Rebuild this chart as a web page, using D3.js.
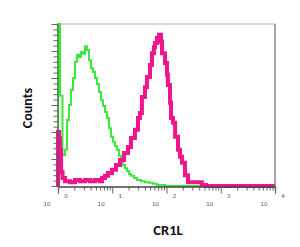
<!DOCTYPE html>
<html>
<head>
<meta charset="utf-8">
<script src="https://cdn.jsdelivr.net/npm/d3@7"></script>
<style>
  html, body { margin: 0; padding: 0; background: #fff; }
  svg { display: block; }
</style>
</head>
<body>
<svg class="canvas" width="300" height="247"></svg>
<script>
"use strict";

// isotype control (green) - fluorescence intensity / event count
const controlIntensity = [1.0, 1.09, 1.21, 1.35, 1.47, 1.59, 1.74, 1.89, 2.06, 2.24,
  2.44, 2.65, 2.89, 3.15, 3.42, 3.73, 4.06, 4.42, 4.81, 5.23,
  5.70, 6.20, 6.75, 7.35, 8.00, 8.71, 9.48, 10.3, 11.2, 12.2,
  13.3, 14.5, 15.8, 17.2, 18.7, 20.4, 22.2, 25.2, 28.6, 33.9,
  40.1, 47.6, 56.4, 66.8, 93.8, 10000];
const controlCounts = [300, 167, 57, 67, 122, 150, 178, 200, 230, 243,
  239, 248, 245, 259, 252, 233, 218, 211, 200, 189,
  174, 159, 148, 137, 126, 107, 91, 82, 74, 67,
  56, 48, 39, 33, 28, 22, 19, 15, 11, 9,
  7, 6, 4, 2, 0, 0];

// CR1L stained (magenta)
const cr1lIntensity = [1.0, 1.05, 1.09, 1.14, 1.21, 1.35, 1.66, 2.06, 2.54, 3.15, 3.89,
  4.81, 5.95, 6.47, 7.35, 8.34, 9.89, 11.7, 13.9, 16.5, 19.5,
  22.2, 26.2, 29.8, 32.4, 35.2, 40.1, 43.6, 49.6, 54.0, 58.7,
  61.3, 66.8, 72.7, 79.1, 82.6, 93.8, 102, 106, 116, 121,
  132, 144, 163, 177, 193, 219, 249, 364, 449, 537, 10000];
const cr1lCounts = [100, 88, 67, 26, 15, 9, 7, 11, 9, 11, 9,
  11, 9, 15, 19, 24, 30, 39, 48, 61, 72,
  89, 104, 126, 135, 165, 183, 202, 224, 246, 257,
  265, 274, 280, 267, 246, 228, 206, 187, 154, 126,
  117, 91, 67, 54, 43, 20, 7, 7, 2, 0, 0];

const decades = [1, 10, 100, 1000, 10000];
const decadeExponents = ["0", "1", "2", "3", "4"];
const decadeBase = "10";

function render() {
  const svg = d3.select(".canvas");
  const plotLeft = 58;
  const plotRight = 275;
  const plotTop = 24;
  const plotBottom = 186;

  const x = d3.scaleLog().domain([1, 10000]).range([plotLeft, plotRight]);
  const y = d3.scaleLinear().domain([0, 300]).range([plotBottom, plotTop]);

  svg.append("defs").append("clipPath").attr("id", "plot-clip")
    .append("rect")
    .attr("x", plotLeft - 2).attr("y", plotTop - 1)
    .attr("width", plotRight - plotLeft + 3).attr("height", plotBottom - plotTop + 3);

  // top and right frame lines
  svg.append("line")
    .attr("x1", plotLeft).attr("x2", plotRight)
    .attr("y1", plotTop).attr("y2", plotTop)
    .attr("stroke", "#b4b4b4").attr("stroke-width", 1);
  svg.append("line")
    .attr("x1", plotRight).attr("x2", plotRight)
    .attr("y1", plotTop).attr("y2", plotBottom + 1)
    .attr("stroke", "#8a8a8a").attr("stroke-width", 1.5);

  // histograms, drawn as steps from the baseline
  const line = d3.line()
    .x(d => x(d[0]))
    .y(d => y(d[1]))
    .curve(d3.curveStepAfter);

  const plot = svg.append("g").attr("clip-path", "url(#plot-clip)");

  const control = [[1, 0]].concat(controlIntensity.map((v, i) => [v, controlCounts[i]]));
  const cr1l = [[1, 0]].concat(cr1lIntensity.map((v, i) => [v, cr1lCounts[i]]));

  plot.append("path")
    .datum(control)
    .attr("d", line)
    .attr("fill", "none")
    .attr("stroke", "#3de83d")
    .attr("stroke-width", 2);

  plot.append("path")
    .datum(cr1l)
    .attr("d", line)
    .attr("fill", "none")
    .attr("stroke", "#f0158c")
    .attr("stroke-width", 4);

  // y axis: unlabelled count ticks
  const yAxis = d3.axisLeft(y)
    .tickValues(d3.range(0, 301, 10))
    .tickSize(4)
    .tickFormat("");
  const yg = svg.append("g")
    .attr("transform", `translate(${plotLeft - 0.5},0)`)
    .call(yAxis);
  yg.selectAll(".tick line")
    .attr("stroke", "#666")
    .attr("x2", d => (d % 50 === 0 ? -6 : -4));
  yg.select(".domain").attr("stroke", "#555");

  // x axis: log decades with minor ticks
  const minor = decades.slice(0, -1).flatMap(d => [2, 3, 4, 5, 6, 7, 8, 9].map(k => k * d));
  const xMinor = d3.axisBottom(x).tickValues(minor).tickSize(4).tickFormat("");
  const xMajor = d3.axisBottom(x).tickValues(decades).tickSize(7).tickFormat("");
  const xg = svg.append("g")
    .attr("transform", `translate(0,${plotBottom + 0.5})`);
  xg.call(xMinor);
  xg.append("g").call(xMajor);
  xg.selectAll(".tick line").attr("stroke", "#666");
  xg.selectAll(".domain").attr("stroke", "#444").attr("stroke-width", 1.2);

  // exponent labels right of the tick, "10" below-left
  const labels = svg.append("g")
    .attr("font-family", "'DejaVu Sans', sans-serif")
    .attr("font-size", 5.5)
    .attr("fill", "#555")
    .attr("text-anchor", "middle");
  labels.selectAll(".exp")
    .data(decades)
    .join("text")
    .attr("class", "exp")
    .attr("x", d => x(d) + 8)
    .attr("y", 198)
    .text((d, i) => decadeExponents[i]);
  labels.selectAll(".base")
    .data(decades)
    .join("text")
    .attr("class", "base")
    .attr("x", d => x(d) - 11)
    .attr("y", 206)
    .text(decadeBase);

  // axis titles
  svg.append("text")
    .attr("x", 168).attr("y", 235)
    .attr("text-anchor", "middle")
    .attr("font-family", "Carlito, Lato, sans-serif")
    .attr("font-weight", "bold")
    .attr("font-size", 14.5)
    .attr("fill", "#111")
    .text("CR1L");

  svg.append("text")
    .attr("transform", "translate(32,108) rotate(-90)")
    .attr("text-anchor", "middle")
    .attr("font-family", "Carlito, Lato, sans-serif")
    .attr("font-weight", "bold")
    .attr("font-size", 14)
    .attr("fill", "#111")
    .text("Counts");
}

window.onload = render;
</script>
</body>
</html>
